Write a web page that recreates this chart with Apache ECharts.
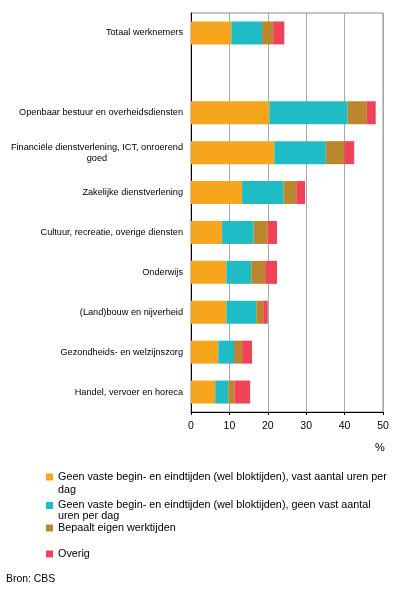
<!DOCTYPE html>
<html>
<head>
<meta charset="utf-8">
<script src="https://cdn.jsdelivr.net/npm/echarts@6/dist/echarts.min.js"></script>
<style>
  html, body { margin: 0; padding: 0; background: #fff; }
  #chart { width: 396px; height: 593px; }
</style>
</head>
<body>
<div id="chart"></div>
<script>
// categorieen (lege regel tussen totaal en sectoren)
var categories = [
  'Totaal werknemers',
  ' ',
  'Openbaar bestuur en overheidsdiensten',
  'Financiële dienstverlening, ICT, onroerend\ngoed',
  'Zakelijke dienstverlening',
  'Cultuur, recreatie, overige diensten',
  'Onderwijs',
  '(Land)bouw en nijverheid',
  'Gezondheids- en welzijnszorg',
  'Handel, vervoer en horeca'
];

var seriesNames = [
  'Geen vaste begin- en eindtijden (wel bloktijden), vast aantal uren per dag',
  'Geen vaste begin- en eindtijden (wel bloktijden), geen vast aantal uren per dag',
  'Bepaalt eigen werktijden',
  'Overig'
];
// zoals in de legenda afgebroken
var legendLines = [
  ['Geen vaste begin- en eindtijden (wel bloktijden), vast aantal uren per', 'dag'],
  ['Geen vaste begin- en eindtijden (wel bloktijden), geen vast aantal', 'uren per dag'],
  ['Bepaalt eigen werktijden'],
  ['Overig']
];

var vastAantal  = [10.5, null, 20.4, 21.7, 13.3, 8.1, 9.2, 9.2, 7.1, 6.3];
var geenVast    = [8.0,  null, 20.4, 13.4, 10.8, 8.2, 6.5, 7.8, 4.1, 3.4];
var eigenTijden = [2.9,  null, 5.0,  4.8,  3.3,  3.7, 3.6, 1.8, 2.1, 1.6];
var overig      = [2.9,  null, 2.3,  2.6,  2.3,  2.4, 3.1, 1.2, 2.6, 4.1];

var xTicks = [0, 10, 20, 30, 40, 50];
var colors = ['#f8a51e', '#1fbcc6', '#ba872f', '#f0435a'];

var sans = '"Liberation Sans", Arial, sans-serif';

var chart = echarts.init(document.getElementById('chart'));

var values = [vastAantal, geenVast, eigenTijden, overig];
var series = seriesNames.map(function (name, i) {
  return {
    name: name,
    type: 'bar',
    stack: 'totaal',
    barWidth: 23,
    itemStyle: { color: colors[i] },
    emphasis: { disabled: true },
    data: values[i]
  };
});

// elke legenda apart, zodat het blokje bij de eerste regel staat
var legendTops = [456.75, 489, 521.25, 547.25];
var legendLineHeights = [13.5, 11, 13.5, 13.5];
var legends = seriesNames.map(function (name, i) {
  var lines = legendLines[i];
  return {
    left: 46,
    top: legendTops[i],
    padding: 0,
    icon: 'rect',
    itemWidth: 7,
    itemHeight: 7,
    selectedMode: false,
    data: [name],
    formatter: function () {
      return lines.length > 1 ? '\n' + lines.join('\n') : lines[0];
    },
    textStyle: {
      fontFamily: sans,
      fontSize: 10.8,
      lineHeight: legendLineHeights[i],
      color: '#000'
    }
  };
});

chart.setOption({
  animation: false,
  color: colors,
  grid: {
    left: 191,
    right: 13,
    top: 13,
    bottom: 181,
    outerBoundsMode: 'none',
    show: true,
    borderColor: '#8a8a8a',
    borderWidth: 1
  },
  title: {
    text: 'Bron: CBS',
    left: 6,
    top: 574,
    padding: 0,
    textStyle: { fontFamily: sans, fontSize: 10.4, fontWeight: 'normal', color: '#000' }
  },
  legend: legends,
  xAxis: {
    type: 'value',
    min: xTicks[0],
    max: xTicks[xTicks.length - 1],
    interval: 10,
    name: '%',
    nameLocation: 'end',
    nameGap: -3,
    nameTextStyle: {
      fontFamily: sans,
      fontSize: 11,
      color: '#000',
      align: 'center',
      verticalAlign: 'top',
      padding: [30, 0, 0, 0]
    },
    axisLine: { show: true, lineStyle: { color: '#000', width: 1 } },
    axisTick: { show: true, length: 3, lineStyle: { color: '#000' } },
    axisLabel: {
      margin: 9,
      color: '#000',
      fontFamily: sans,
      fontSize: 10.5
    },
    splitLine: { show: true, lineStyle: { color: '#a8a8a8', width: 1 } }
  },
  yAxis: {
    type: 'category',
    inverse: true,
    data: categories,
    axisLine: { show: true, lineStyle: { color: '#000', width: 1 } },
    axisTick: { show: false },
    splitLine: { show: false },
    axisLabel: {
      interval: 0,
      margin: 8,
      color: '#000',
      fontFamily: sans,
      fontSize: 9.2,
      lineHeight: 11,
      formatter: function (v) {
        var p = v.split('\n');
        return p.length > 1 ? p[0] + '\n{c|' + p[1] + '}' : v;
      },
      rich: {
        c: { align: 'center', fontFamily: sans, fontSize: 9.2, lineHeight: 11, color: '#000' }
      }
    }
  },
  series: series
});
</script>
</body>
</html>
